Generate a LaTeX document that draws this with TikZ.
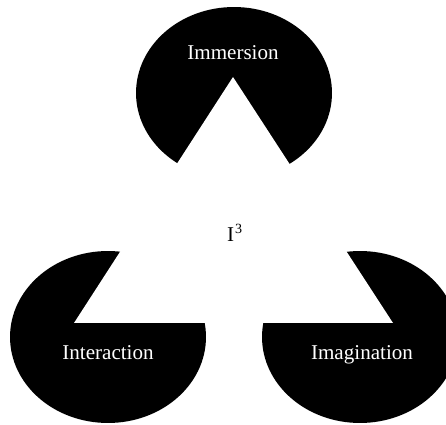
\documentclass[tikz,border=0pt]{standalone}
\usepackage{fontspec}
\setmainfont{Liberation Serif}
\usetikzlibrary{shapes.geometric}

\begin{document}
\begin{tikzpicture}[
        x=0.02cm, y=-0.02cm, font=\fontsize{12}{14}\selectfont,
        disc/.style={ellipse, fill=black, inner sep=0pt, minimum width=3.92cm, minimum height=3.44cm},
        disctext/.style={text=white, inner sep=1pt}
    ]
        \useasboundingbox (0,0) rectangle (446,425);
        \clip (0,0) rectangle (446,425);
        % the three discs
        \node[disc] (top) at (234,93) {};
        \node[disc] (left) at (108,337) {};
        \node[disc] (right) at (360,337) {};
        % corners of the white triangle
        \coordinate (apex) at (233,77);
        \coordinate (cornerL) at (74,323);
        \coordinate (cornerR) at (393,323);
        \fill[white] (apex) -- (cornerL) -- (cornerR) -- cycle;
        \node[disctext] (immersion) at (233,53) {Immersion};
        \node[disctext] (interaction) at (108,353) {Interaction};
        \node[disctext] (imagination) at (362,355) {Imagination};
        \node (ithree) at (235,233) {I\kern0.6pt\textsuperscript{3}};
    \end{tikzpicture}
\end{document}
